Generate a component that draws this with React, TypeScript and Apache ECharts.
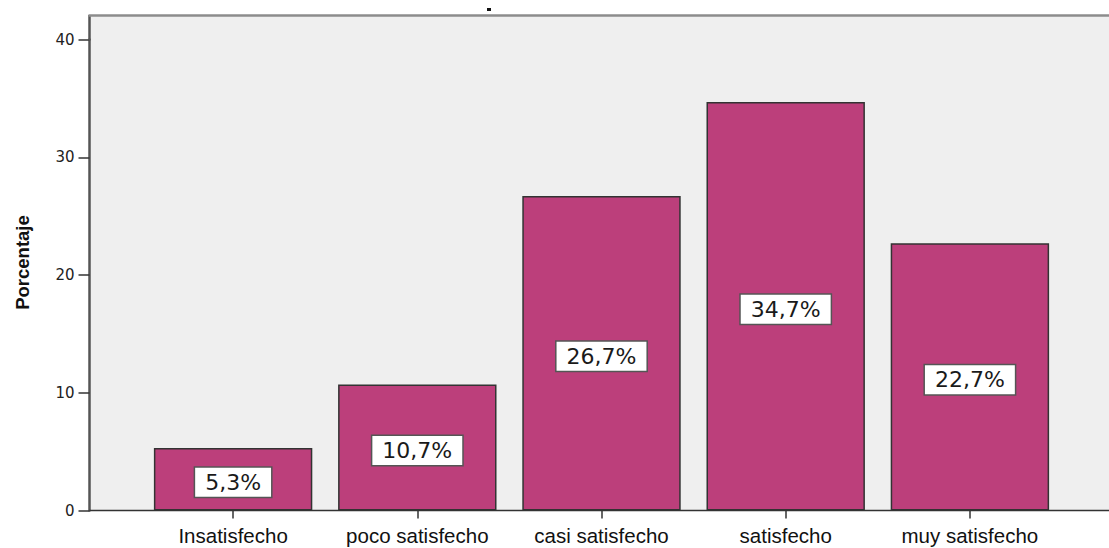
import React, { useEffect, useRef } from "react";
import * as echarts from "echarts";

// Satisfaction levels and the share of respondents in each
const categories = ["Insatisfecho", "poco satisfecho", "casi satisfecho", "satisfecho", "muy satisfecho"];
const percentages = [5.3, 10.7, 26.7, 34.7, 22.7];
const yTickValues = [0, 10, 20, 30, 40];
const yAxisName = "Porcentaje";

const W = 1109;
const H = 548;

// Plot frame (the shaded panel reaches further left and higher than the axes' own extent)
const frameLeft = 89.5;
const frameTop = 15;
const frameBottom = 510.5;
const axisTop = 39.5; // where the highest tick value sits
const bandLeft = 141;
const bandRight = 1062;

const fmtPct = (v: number) => `${v.toFixed(1).replace(".", ",")}%`;

export default function App() {
  const ref = useRef<HTMLDivElement>(null);

  useEffect(() => {
    document.body.style.margin = "0";
    const chart = echarts.init(ref.current!, null, { renderer: "svg" });
    chart.setOption({
      animation: false,
      backgroundColor: "#ffffff",
      grid: {
        left: bandLeft,
        right: W - bandRight,
        top: axisTop,
        bottom: H - frameBottom,
        containLabel: false,
      },
      graphic: [
        {
          type: "rect",
          z: -100,
          silent: true,
          shape: { x: frameLeft, y: frameTop, width: W - frameLeft, height: frameBottom - frameTop },
          style: { fill: "#efefef" },
        },
        {
          // upper stretch of the vertical axis line, above the last tick
          type: "line",
          z: 100,
          silent: true,
          shape: { x1: frameLeft, y1: frameTop, x2: frameLeft, y2: axisTop + 1 },
          style: { stroke: "#555555", lineWidth: 2.5 },
        },
        {
          type: "line",
          z: 100,
          silent: true,
          shape: { x1: frameLeft - 1, y1: frameTop + 0.5, x2: W, y2: frameTop + 0.5 },
          style: { stroke: "#8c8c8c", lineWidth: 2.5 },
        },
        {
          type: "line",
          z: 100,
          silent: true,
          shape: { x1: frameLeft, y1: frameBottom, x2: W, y2: frameBottom },
          style: { stroke: "#333333", lineWidth: 1.5 },
        },
        {
          type: "rect",
          z: 100,
          silent: true,
          shape: { x: 487, y: 8, width: 4, height: 3 },
          style: { fill: "#111111" },
        },
      ],
      xAxis: {
        type: "category",
        data: categories,
        axisLine: { show: false },
        axisTick: {
          show: true,
          alignWithLabel: true,
          length: 8,
          lineStyle: { color: "#333333", width: 1.5 },
        },
        axisLabel: {
          interval: 0,
          margin: 14,
          fontFamily: "'Liberation Sans', Arial, sans-serif",
          fontSize: 20.5,
          color: "#111111",
        },
        splitLine: { show: false },
      },
      yAxis: {
        type: "value",
        min: yTickValues[0],
        max: yTickValues[yTickValues.length - 1],
        interval: 10,
        offset: bandLeft - frameLeft,
        name: yAxisName,
        nameLocation: "middle",
        nameGap: 58,
        nameRotate: 90,
        nameTextStyle: {
          fontFamily: "'Liberation Sans', Arial, sans-serif",
          fontWeight: "bold",
          fontSize: 18.5,
          color: "#111111",
          // centre the title on the whole shaded panel, not only the tick range
          padding: [0, 0, 0, 25],
        },
        axisLine: { show: true, lineStyle: { color: "#555555", width: 2.5 } },
        axisTick: {
          show: true,
          length: 11,
          lineStyle: { color: "#333333", width: 1.5 },
        },
        axisLabel: {
          margin: 15,
          fontFamily: "'DejaVu Sans', sans-serif",
          fontSize: 15,
          color: "#222222",
        },
        splitLine: { show: false },
      },
      series: [
        {
          type: "bar",
          data: percentages,
          barCategoryGap: "14%",
          itemStyle: { color: "#bc3f7b", borderColor: "#333333", borderWidth: 1.5 },
          label: {
            show: true,
            position: "inside",
            offset: [0, 3],
            formatter: (p: any) => fmtPct(p.value),
            fontFamily: "'DejaVu Sans', sans-serif",
            fontSize: 22,
            lineHeight: 22,
            color: "#1a1a1a",
            backgroundColor: "#ffffff",
            borderColor: "#555555",
            borderWidth: 1.5,
            padding: [4, 10, 3, 10],
          },
        },
      ],
    });
    return () => chart.dispose();
  }, []);

  return <div ref={ref} style={{ width: W, height: H }} />;
}
